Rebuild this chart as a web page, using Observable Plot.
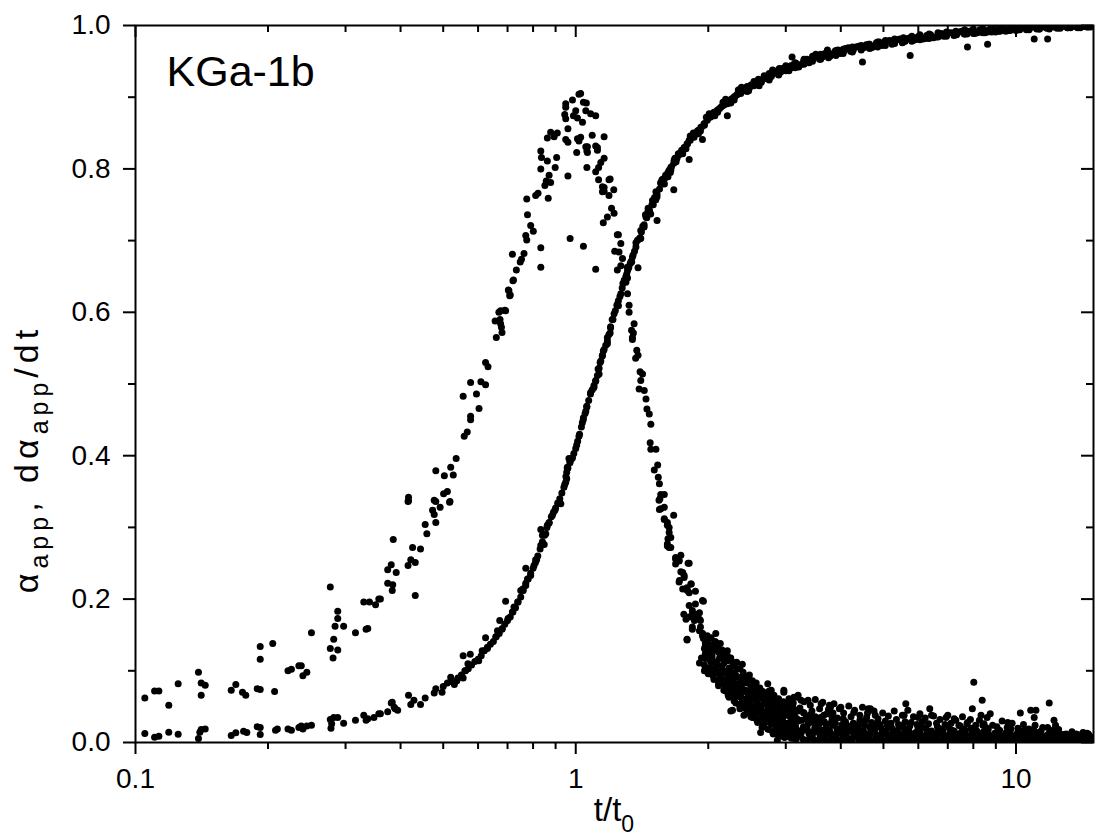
<!DOCTYPE html>
<html>
<head>
<meta charset="utf-8">
<script src="https://cdn.jsdelivr.net/npm/d3@7"></script>
<script src="https://cdn.jsdelivr.net/npm/@observablehq/plot@0.6"></script>
<style>
  html, body { margin: 0; padding: 0; background: #fff; }
  #chart svg { display: block; }
</style>
</head>
<body>
<div id="chart"></div>
<script>
// ---- Labels and ticks ----
const sampleLabel = "KGa-1b";
const xTitle = "t/t";
const xTitleSub = "0";
const xMajorTicks = [0.1, 1, 10];
const xMinorTicks = [0.2,0.3,0.4,0.5,0.6,0.7,0.8,0.9,2,3,4,5,6,7,8,9];
const yMajorTicks = [0, 0.2, 0.4, 0.6, 0.8, 1.0];
const yMinorTicks = [0.1, 0.3, 0.5, 0.7, 0.9];

// ---- dα_app/dt readings (t/t0, value) ----
const rateRise = [[0.105,0.062],[0.1105,0.072],[0.113,0.072],[0.119,0.052],[0.125,0.082],[0.139,0.098],[0.141,0.066],[0.141,0.083],[0.144,0.080],[0.165,0.073],[0.169,0.081],[0.175,0.070],[0.178,0.066],[0.189,0.075],[0.192,0.074],[0.192,0.134],[0.192,0.116],[0.205,0.138],[0.207,0.071],[0.222,0.100],[0.226,0.102],[0.235,0.107],[0.238,0.107],[0.240,0.093],[0.245,0.098],[0.251,0.153],[0.277,0.217],[0.277,0.131],[0.281,0.118],[0.282,0.144],[0.284,0.162],[0.288,0.183],[0.288,0.173],[0.288,0.129],[0.297,0.162],[0.316,0.153],[0.334,0.158],[0.337,0.159],[0.330,0.196],[0.340,0.196],[0.351,0.192],[0.357,0.200],[0.360,0.200],[0.374,0.241],[0.381,0.248],[0.391,0.237],[0.374,0.222],[0.384,0.220],[0.383,0.212],[0.385,0.283],[0.426,0.272],[0.444,0.270],[0.422,0.255],[0.432,0.251],[0.416,0.247],[0.432,0.205],[0.417,0.342],[0.417,0.337],[0.416,0.336],[0.455,0.304],[0.459,0.291],[0.473,0.324],[0.477,0.318],[0.481,0.307],[0.511,0.350],[0.501,0.347],[0.518,0.336],[0.481,0.336],[0.492,0.328],[0.477,0.338],[0.517,0.335],[0.520,0.384],[0.481,0.379],[0.503,0.372],[0.527,0.373],[0.535,0.396],[0.567,0.433],[0.558,0.427],[0.577,0.455],[0.577,0.450],[0.603,0.466],[0.555,0.483],[0.595,0.486],[0.577,0.502],[0.609,0.503],[0.624,0.499],[0.624,0.530],[0.632,0.524],[0.656,0.588],[0.660,0.565],[0.669,0.600],[0.673,0.590],[0.678,0.579],[0.680,0.572],[0.690,0.603],[0.675,0.602],[0.693,0.602],[0.675,0.584],[0.703,0.631],[0.710,0.624],[0.708,0.623],[0.705,0.630],[0.720,0.644],[0.722,0.645]];

const ratePeak = [[0.733,0.659],[0.748,0.670],[0.753,0.674],[0.718,0.681],[0.763,0.682],[0.774,0.701],[0.770,0.707],[0.801,0.713],[0.790,0.721],[0.777,0.736],[0.774,0.758],[0.811,0.763],[0.821,0.766],[0.866,0.759],[0.851,0.777],[0.857,0.783],[0.877,0.781],[0.870,0.791],[0.960,0.790],[0.833,0.800],[0.898,0.802],[0.836,0.816],[0.862,0.811],[0.905,0.816],[0.833,0.825],[0.862,0.843],[0.877,0.851],[0.893,0.845],[0.908,0.850],[0.949,0.841],[0.960,0.837],[0.960,0.856],[0.949,0.870],[0.944,0.876],[0.949,0.886],[0.949,0.891],[0.983,0.896],[0.988,0.874],[1.0,0.881],[1.009,0.871],[1.017,0.904],[1.026,0.905],[1.036,0.865],[1.041,0.893],[1.054,0.881],[1.057,0.892],[1.081,0.877],[1.110,0.874],[1.009,0.842],[1.017,0.839],[1.026,0.844],[1.090,0.847],[1.160,0.845],[1.005,0.823],[1.060,0.825],[1.063,0.831],[1.110,0.832],[1.120,0.826],[1.054,0.831],[1.063,0.823],[1.12,0.830],[1.060,0.802],[1.110,0.796],[1.127,0.802],[1.14,0.809],[1.16,0.815],[1.127,0.785],[1.19,0.785],[1.197,0.786],[1.16,0.774],[1.15,0.775],[1.22,0.771],[1.15,0.768],[1.16,0.769],[1.19,0.763],[0.833,0.663],[0.833,0.690],[0.971,0.703],[1.041,0.692],[1.110,0.660],[1.206,0.745],[1.222,0.738],[1.180,0.733],[1.155,0.725],[1.25,0.708],[1.243,0.708],[1.266,0.696],[1.226,0.685],[1.254,0.684],[1.277,0.675],[1.243,0.659],[1.266,0.665],[1.311,0.648],[1.30,0.642],[1.311,0.626],[1.322,0.610],[1.322,0.600],[1.357,0.584],[1.339,0.575],[1.345,0.565]];

const rateFall = [[1.352,0.571],[1.345,0.562],[1.376,0.547],[1.385,0.540],[1.368,0.536],[1.400,0.517],[1.418,0.514],[1.405,0.505],[1.393,0.493],[1.431,0.491],[1.444,0.479],[1.451,0.465],[1.469,0.458],[1.481,0.444],[1.476,0.418],[1.481,0.409],[1.521,0.409],[1.535,0.387],[1.508,0.380],[1.540,0.370],[1.549,0.361],[1.560,0.346],[1.589,0.346],[1.553,0.340],[1.546,0.338],[1.549,0.325],[1.560,0.326],[1.589,0.328],[1.589,0.312],[1.669,0.317],[1.589,0.311],[1.615,0.307],[1.615,0.303],[1.630,0.300],[1.630,0.293],[1.644,0.286],[1.620,0.284],[1.615,0.277],[1.615,0.274],[1.630,0.272],[1.644,0.272],[1.686,0.258],[1.686,0.256],[1.717,0.253],[1.717,0.254],[1.733,0.261],[1.686,0.249],[1.80,0.250],[1.81,0.250],[1.75,0.237],[1.733,0.238],[1.763,0.233],[1.72,0.226],[1.717,0.224],[1.763,0.230],[1.79,0.216],[1.826,0.221],[1.83,0.221],[1.81,0.209],[1.75,0.214],[1.793,0.212],[1.87,0.211],[1.779,0.214],[1.81,0.191],[1.87,0.193],[1.95,0.197],[1.94,0.198],[1.76,0.179],[1.84,0.179],[1.87,0.179],[1.81,0.175],[1.86,0.170],[1.89,0.174],[1.92,0.170],[1.91,0.172],[1.84,0.184],[1.91,0.181],[1.78,0.172],[1.84,0.161],[1.84,0.158],[1.92,0.161],[1.94,0.152],[1.91,0.156],[1.94,0.149],[1.79,0.143],[1.79,0.144],[1.97,0.135],[1.99,0.126],[1.97,0.117],[1.91,0.111],[1.96,0.100],[2.01,0.098]];

const rateTail = [[2.08,0.152],[1.97,0.138],[2.08,0.140],[1.99,0.128],[2.11,0.126],[2.04,0.117],[2.16,0.119],[2.21,0.114],[1.97,0.100],[2.04,0.098],[2.14,0.100],[2.29,0.110],[2.39,0.109],[2.11,0.086],[2.21,0.089],[2.31,0.093],[2.33,0.082],[2.45,0.091],[2.23,0.077],[2.39,0.075],[2.52,0.077],[2.29,0.066],[2.35,0.064],[2.47,0.071],[2.58,0.068],[2.73,0.082],[2.78,0.073],[2.25,0.044],[2.27,0.045],[2.41,0.038],[2.52,0.035],[2.58,0.031],[2.63,0.014],[2.87,0.003],[2.82,0.063],[2.97,0.070],[3.13,0.063],[2.92,0.054],[3.08,0.049],[3.25,0.059],[3.29,0.042],[3.61,0.054],[3.79,0.049],[4.0,0.049],[3.47,0.035],[3.72,0.040],[4.28,0.042],[4.62,0.047],[3.13,0.031],[3.37,0.026],[3.82,0.031],[4.28,0.026],[4.58,0.035],[4.13,0.017],[4.73,0.019],[3.61,0.017],[3.00,0.012],[4.45,0.012],[2.97,0.073],[3.19,0.063],[3.37,0.059],[3.77,0.052],[4.67,0.047],[4.79,0.038],[5.62,0.054],[5.57,0.038],[6.0,0.035],[6.37,0.047],[6.43,0.038],[6.94,0.035],[7.24,0.033],[7.76,0.028],[7.96,0.047],[8.02,0.084],[8.38,0.059],[8.33,0.038],[8.74,0.040],[9.58,0.028],[10.23,0.041],[10.8,0.045],[11.1,0.045],[11.0,0.035],[11.5,0.021],[11.9,0.055],[12.2,0.031],[12.3,0.024],[14.5,0.013],[14.3,0.013]];

const rateKnee = [[1.94,0.152],[1.96,0.108],[1.98,0.127],[1.99,0.149],[2.0,0.096],[2.01,0.137],[2.02,0.115],[2.03,0.146],[2.04,0.103],[2.05,0.128],[2.06,0.088],[2.07,0.141],[2.08,0.112],[2.09,0.097],[2.1,0.131],[2.11,0.079],[2.12,0.117],[2.13,0.138],[2.14,0.091],[2.15,0.106],[2.16,0.124],[2.17,0.073],[2.18,0.099],[2.19,0.115],[2.2,0.086],[2.21,0.128],[2.22,0.066],[2.23,0.104],[2.24,0.094],[2.25,0.118],[2.26,0.072],[2.27,0.088],[2.28,0.107],[2.29,0.058],[2.3,0.097],[2.31,0.081],[2.32,0.112],[2.33,0.067],[2.34,0.091],[2.35,0.053],[2.36,0.103],[2.37,0.076],[2.38,0.087],[2.39,0.061],[2.4,0.098],[2.41,0.048],[2.42,0.071],[2.43,0.092],[2.44,0.057],[2.45,0.083],[2.46,0.044],[2.47,0.066],[2.48,0.094],[2.49,0.052],[2.5,0.077],[2.51,0.039],[2.52,0.086],[2.53,0.061],[2.54,0.047],[2.55,0.072],[2.56,0.034],[2.57,0.083],[2.58,0.056],[2.59,0.041],[2.6,0.068],[2.61,0.029],[2.62,0.076],[2.63,0.049],[2.64,0.062],[2.65,0.036],[2.66,0.071],[2.67,0.024],[2.68,0.054],[2.69,0.043],[2.7,0.066],[2.71,0.031],[2.72,0.058],[2.73,0.019],[2.74,0.047],[2.75,0.072],[2.76,0.037],[2.77,0.061],[2.78,0.026],[2.79,0.052],[2.8,0.015],[2.81,0.043],[2.82,0.066],[2.83,0.033],[2.84,0.056],[2.85,0.021],[2.86,0.047],[2.87,0.012],[2.88,0.039],[2.89,0.061],[2.9,0.028],[2.91,0.051],[2.92,0.017],[2.93,0.043],[2.94,0.009],[2.95,0.034],[2.96,0.057],[2.97,0.023],[2.98,0.046],[2.99,0.013],[3.0,0.038],[3.02,0.054],[3.03,0.027],[3.05,0.008],[3.06,0.043],[3.08,0.018],[3.09,0.033],[3.11,0.05],[3.12,0.011],[3.14,0.038],[3.15,0.024],[3.17,0.006],[3.18,0.045],[3.2,0.03]];

// middle layer of the tail (y ≈ 0.02–0.065)
const rateMid = [[3.05,0.061],[3.12,0.055],[3.2,0.066],[3.23,0.048],[3.3,0.057],[3.34,0.035],[3.41,0.052],[3.44,0.044],[3.5,0.06],[3.53,0.031],[3.58,0.047],[3.64,0.056],[3.66,0.038],[3.71,0.025],[3.75,0.046],[3.84,0.041],[3.86,0.054],[3.93,0.034],[3.97,0.047],[4.06,0.041],[4.1,0.029],[4.17,0.051],[4.22,0.036],[4.3,0.045],[4.34,0.022],[4.42,0.038],[4.48,0.049],[4.55,0.031],[4.6,0.041],[4.7,0.028],[4.76,0.044],[4.86,0.033],[4.91,0.025],[4.98,0.041],[5.05,0.03],[5.13,0.037],[5.2,0.027],[5.29,0.044],[5.35,0.032],[5.45,0.024],[5.52,0.038],[5.6,0.029],[5.68,0.045],[5.78,0.028],[5.85,0.036],[5.96,0.025],[6.05,0.04],[6.13,0.029],[6.22,0.034],[6.33,0.026],[6.5,0.037],[6.6,0.027],[6.72,0.032],[6.9,0.025],[7.0,0.038],[7.12,0.027],[7.3,0.031],[7.42,0.024],[7.56,0.036],[7.74,0.026],[7.88,0.032],[8.1,0.024],[8.26,0.031],[8.46,0.026],[8.6,0.035],[8.85,0.024],[9.05,0.022],[9.3,0.03],[9.55,0.021],[9.8,0.027],[10.1,0.02],[10.4,0.025],[10.7,0.019],[11.05,0.024],[11.4,0.016],[11.8,0.021],[12.1,0.013],[12.5,0.018],[13.0,0.012],[13.4,0.015],[13.8,0.011],[14.2,0.014],[14.6,0.012]];

// dense low band of the tail
const rateCloud = [
[1.93,0.118],[1.96,0.131],[1.95,0.145],[1.97,0.124],
[2.01,0.104],[1.99,0.118],[2.02,0.129],[1.98,0.142],[2.03,0.112],
[2.05,0.093],[2.08,0.107],[2.04,0.121],[2.07,0.134],[2.09,0.099],
[2.11,0.082],[2.14,0.095],[2.10,0.108],[2.13,0.12],[2.15,0.129],[2.12,0.089],
[2.19,0.072],[2.16,0.086],[2.2,0.097],[2.17,0.111],[2.21,0.121],[2.18,0.079],
[2.23,0.063],[2.26,0.075],[2.22,0.089],[2.25,0.099],[2.27,0.112],[2.24,0.082],
[2.31,0.055],[2.28,0.066],[2.32,0.079],[2.29,0.09],[2.33,0.103],[2.3,0.072],
[2.36,0.047],[2.39,0.058],[2.35,0.07],[2.38,0.081],[2.4,0.093],[2.37,0.064],
[2.45,0.041],[2.42,0.052],[2.46,0.064],[2.43,0.073],[2.47,0.087],[2.44,0.058],
[2.5,0.036],[2.53,0.046],[2.49,0.057],[2.52,0.067],[2.54,0.079],[2.51,0.051],
[2.59,0.028],[2.56,0.04],[2.6,0.05],[2.57,0.061],[2.61,0.072],[2.58,0.045],
[2.65,0.021],[2.68,0.033],[2.64,0.045],[2.67,0.055],[2.69,0.066],[2.66,0.039],
[2.75,0.018],[2.72,0.029],[2.76,0.04],[2.73,0.05],[2.77,0.063],[2.74,0.034],
[2.81,0.012],[2.84,0.024],[2.8,0.036],[2.83,0.046],[2.85,0.057],[2.82,0.03],
[2.91,0.009],[2.88,0.02],[2.92,0.031],[2.89,0.042],[2.93,0.054],[2.9,0.026],
[2.98,0.007],[3.01,0.018],[2.97,0.028],[3.0,0.039],[3.02,0.05],[2.99,0.022],
[3.09,0.006],[3.06,0.016],[3.1,0.026],[3.07,0.036],[3.11,0.047],[3.08,0.021],
[3.16,0.004],[3.19,0.015],[3.15,0.024],[3.18,0.033],[3.2,0.044],[3.17,0.019],
[3.28,0.005],[3.25,0.013],[3.29,0.022],[3.26,0.031],[3.3,0.041],[3.27,0.017],
[3.36,0.003],[3.39,0.012],[3.35,0.021],[3.38,0.03],[3.4,0.038],[3.37,0.016],
[3.48,0.004],[3.45,0.011],[3.49,0.02],[3.46,0.028],[3.5,0.036],[3.47,0.015],
[3.56,0.003],[3.59,0.01],[3.55,0.018],[3.58,0.026],[3.6,0.035],[3.57,0.014],
[3.69,0.004],[3.66,0.012],[3.7,0.02],[3.67,0.029],[3.68,0.008],
[3.78,0.002],[3.81,0.009],[3.77,0.017],[3.8,0.027],[3.82,0.036],[3.79,0.013],
[3.91,0.004],[3.88,0.011],[3.92,0.019],[3.89,0.026],[3.9,0.007],
[4.01,0.003],[4.04,0.01],[4.0,0.018],[4.03,0.025],[4.05,0.033],[4.02,0.014],
[4.15,0.002],[4.12,0.009],[4.16,0.016],[4.13,0.024],[4.14,0.006],
[4.25,0.004],[4.28,0.011],[4.24,0.019],[4.27,0.027],[4.26,0.015],
[4.4,0.002],[4.37,0.008],[4.41,0.015],[4.38,0.023],[4.42,0.031],[4.39,0.012],
[4.51,0.003],[4.54,0.01],[4.5,0.017],[4.53,0.024],[4.52,0.007],
[4.67,0.002],[4.64,0.008],[4.68,0.016],[4.65,0.022],[4.66,0.012],
[4.79,0.003],[4.82,0.01],[4.78,0.018],[4.81,0.026],[4.8,0.006],
[4.95,0.002],[4.92,0.007],[4.96,0.014],[4.93,0.021],[4.94,0.01],
[5.08,0.003],[5.11,0.009],[5.07,0.016],[5.1,0.024],[5.09,0.012],
[5.25,0.002],[5.22,0.008],[5.26,0.015],[5.23,0.02],[5.24,0.005],
[5.39,0.003],[5.42,0.01],[5.38,0.017],[5.41,0.025],[5.4,0.013],
[5.57,0.002],[5.54,0.007],[5.58,0.014],[5.55,0.021],[5.56,0.01],
[5.72,0.003],[5.75,0.009],[5.71,0.016],[5.74,0.023],[5.73,0.006],
[5.91,0.002],[5.88,0.008],[5.92,0.014],[5.89,0.011],
[6.07,0.003],[6.1,0.01],[6.06,0.017],[6.09,0.024],[6.08,0.006],
[6.27,0.002],[6.24,0.007],[6.28,0.013],[6.25,0.02],[6.26,0.01],
[6.44,0.003],[6.47,0.009],[6.43,0.016],[6.46,0.006],
[6.65,0.002],[6.62,0.008],[6.66,0.015],[6.63,0.022],[6.64,0.011],
[6.83,0.003],[6.86,0.01],[6.82,0.017],[6.85,0.006],
[7.06,0.002],[7.03,0.007],[7.07,0.013],[7.04,0.021],[7.05,0.01],
[7.25,0.003],[7.28,0.009],[7.24,0.016],[7.27,0.006],
[7.49,0.002],[7.46,0.008],[7.5,0.014],[7.47,0.023],[7.48,0.011],
[7.69,0.003],[7.72,0.01],[7.68,0.017],[7.71,0.006],
[7.94,0.002],[7.91,0.007],[7.95,0.013],[7.92,0.02],[7.93,0.01],
[8.16,0.003],[8.19,0.009],[8.15,0.016],[8.18,0.006],
[8.43,0.002],[8.4,0.008],[8.44,0.015],[8.41,0.024],[8.42,0.011],
[8.66,0.003],[8.69,0.01],[8.65,0.018],[8.68,0.006],
[8.94,0.002],[8.91,0.007],[8.95,0.013],[8.92,0.01],
[9.19,0.003],[9.22,0.009],[9.18,0.017],[9.21,0.006],
[9.49,0.002],[9.46,0.008],[9.5,0.014],[9.47,0.011],
[9.75,0.003],[9.78,0.01],[9.74,0.019],[9.77,0.006],
[10.06,0.002],[10.03,0.007],[10.07,0.013],[10.04,0.01],
[10.34,0.003],[10.37,0.009],[10.33,0.016],[10.36,0.006],
[10.67,0.002],[10.64,0.008],[10.68,0.014],[10.65,0.011],
[10.97,0.003],[11.0,0.01],[10.96,0.018],[10.99,0.006],
[11.32,0.002],[11.29,0.007],[11.33,0.013],[11.3,0.01],
[11.64,0.003],[11.67,0.009],[11.63,0.006],
[12.01,0.002],[11.98,0.008],[12.02,0.015],[11.99,0.011],
[12.35,0.003],[12.38,0.01],[12.37,0.006],
[12.74,0.002],[12.71,0.007],[12.72,0.011],
[13.1,0.003],[13.13,0.009],[13.12,0.005],
[13.51,0.002],[13.48,0.006],[13.49,0.01],
[13.89,0.003],[13.92,0.008],
[14.31,0.002],[14.28,0.007],
[14.69,0.003],[14.72,0.009],
[3.22,0.009],[3.31,0.018],[3.42,0.007],[3.52,0.022],[3.62,0.006],[3.73,0.016],[3.84,0.024],[3.95,0.013],[4.07,0.021],[4.19,0.005],[4.31,0.017],[4.45,0.027],[4.57,0.012],[4.71,0.019],[4.86,0.005],[5.0,0.014],[5.15,0.022],[5.31,0.011],[5.47,0.004],[5.64,0.018],[5.81,0.012],[5.99,0.021],[6.17,0.005],[6.35,0.015],[6.55,0.012],[6.74,0.019],[6.95,0.005],[7.15,0.017],[7.37,0.011],[7.59,0.019],[7.82,0.005],[8.05,0.016],[8.3,0.012],[8.55,0.021],[8.8,0.005],[9.07,0.013],[9.34,0.009],[9.62,0.015],[9.91,0.005],[10.2,0.012],[10.5,0.018],[10.8,0.006],[11.15,0.014],[11.5,0.005],[11.85,0.012],[12.2,0.018],[12.55,0.004],[12.9,0.011],[13.3,0.006],[13.7,0.012],[14.1,0.005],[14.5,0.01],[14.9,0.006]];

// ---- α_app readings ----
const alphaEarly = [[0.105,0.0125],[0.1105,0.0074],[0.113,0.0088],[0.119,0.0144],[0.125,0.0116],[0.139,0.0056],[0.140,0.0144],[0.141,0.018],[0.144,0.019],[0.165,0.0098],[0.169,0.0135],[0.176,0.0158],[0.179,0.014],[0.189,0.022],[0.192,0.011],[0.192,0.021],[0.208,0.017],[0.21,0.019],[0.222,0.019],[0.226,0.017],[0.235,0.021],[0.238,0.023],[0.240,0.019],[0.245,0.023],[0.251,0.024],[0.277,0.032],[0.279,0.026],[0.278,0.020],[0.282,0.035],[0.288,0.035],[0.297,0.027],[0.316,0.031],[0.330,0.038],[0.334,0.031],[0.337,0.033],[0.348,0.035],[0.357,0.040],[0.360,0.040],[0.374,0.043],[0.381,0.055],[0.383,0.056],[0.387,0.049],[0.389,0.047],[0.394,0.045],[0.422,0.053],[0.417,0.066],[0.429,0.059],[0.444,0.053],[0.455,0.062],[0.477,0.069],[0.481,0.075],[0.497,0.070],[0.511,0.083],[0.520,0.091],[0.537,0.086],[0.555,0.090],[0.562,0.100],[0.569,0.110],[0.555,0.121],[0.576,0.123],[0.602,0.114],[0.613,0.128],[0.630,0.133],[0.624,0.146],[0.658,0.147],[0.664,0.156],[0.681,0.159],[0.672,0.170],[0.702,0.173],[0.718,0.182],[0.693,0.197],[0.724,0.189],[0.738,0.196],[0.750,0.212],[0.758,0.214],[0.770,0.222],[0.777,0.228],[0.790,0.233],[0.770,0.243],[0.804,0.247],[0.815,0.255],[0.811,0.255]];

const alphaMid = [[0.833,0.275],[0.848,0.276],[0.833,0.297],[0.840,0.289],[0.855,0.291],[0.862,0.303],[0.870,0.307],[0.885,0.317],[0.897,0.324],[0.912,0.333],[0.925,0.333],[0.944,0.360],[0.949,0.363],[0.954,0.377],[0.957,0.384],[0.965,0.396],[0.954,0.368],[0.957,0.382],[0.971,0.392],[0.983,0.397],[1.005,0.415],[1.017,0.427],[1.035,0.446],[1.041,0.453],[1.054,0.462],[1.059,0.469],[1.081,0.488],[1.100,0.495],[1.110,0.504],[1.130,0.514],[1.124,0.521],[1.136,0.530],[1.149,0.539],[1.155,0.546],[1.180,0.556],[1.197,0.571],[1.18,0.565],[1.20,0.58],[1.21,0.59],[1.222,0.598],[1.24,0.61],[1.25,0.616],[1.266,0.626],[1.288,0.644],[1.30,0.65],[1.311,0.658],[1.33,0.668],[1.345,0.677],[1.36,0.685],[1.38,0.700],[1.405,0.714],[1.405,0.703],[1.42,0.72],[1.43,0.719],[1.444,0.733],[1.46,0.745],[1.469,0.742],[1.48,0.737],[1.494,0.756],[1.51,0.76],[1.521,0.768],[1.53,0.761],[1.560,0.781],[1.57,0.785],[1.59,0.779],[1.60,0.791],[1.62,0.795],[1.644,0.802],[1.644,0.798],[1.673,0.812],[1.69,0.81],[1.70,0.816],[1.717,0.821],[1.74,0.826],[1.763,0.830],[1.79,0.835],[1.81,0.840],[1.84,0.846],[1.857,0.849],[1.857,0.844],[1.89,0.853],[1.924,0.858],[1.957,0.863],[1.96,0.861],[1.99,0.870],[2.03,0.873],[2.06,0.879],[2.06,0.877],[2.1,0.882],[2.136,0.886],[2.17,0.889],[2.21,0.893],[2.21,0.891],[2.25,0.896],[2.29,0.900],[2.32,0.903],[2.35,0.907],[1.94,0.841],[1.81,0.813],[1.67,0.771],[1.53,0.728],[1.385,0.662],[2.21,0.874]];

const alphaBand = [[0.50,0.078],[0.52,0.085],[0.53,0.081],[0.54,0.090],[0.55,0.094],[0.56,0.100],[0.57,0.103],[0.58,0.108],[0.59,0.113],[0.60,0.116],[0.61,0.121],[0.62,0.128],[0.63,0.131],[0.64,0.137],[0.65,0.141],[0.66,0.148],[0.67,0.152],[0.68,0.158],[0.69,0.165],[0.70,0.170],[0.71,0.175],[0.72,0.182],[0.73,0.188],[0.74,0.196],[0.75,0.203],[0.76,0.212],[0.77,0.219],[0.78,0.228],[0.79,0.236],[0.80,0.243],[0.81,0.251],[0.82,0.260],[0.83,0.270],[0.84,0.280],[0.85,0.289],[0.86,0.300],[0.87,0.306],[0.88,0.315],[0.89,0.321],[0.90,0.327],[0.91,0.334],[0.92,0.340],[0.93,0.348],[0.94,0.356],[0.95,0.371],[0.96,0.383],[0.97,0.390],[0.98,0.396],[0.99,0.403],[1.00,0.410],[1.01,0.420],[1.02,0.430],[1.03,0.440],[1.04,0.450],[1.05,0.459],[1.06,0.468],[1.07,0.477],[1.08,0.486],[1.09,0.492],[1.10,0.498],[1.11,0.505],[1.12,0.512],[1.13,0.522],[1.14,0.532],[1.15,0.540],[1.16,0.548],[1.17,0.554],[1.18,0.560],[1.19,0.569],[1.20,0.578],[1.215,0.590],[1.23,0.602],[1.245,0.612],[1.26,0.622],[1.275,0.634],[1.29,0.645],[1.305,0.653],[1.32,0.662],[1.335,0.671],[1.35,0.680],[1.37,0.691],[1.39,0.702],[1.41,0.712],[1.43,0.722],[1.45,0.732],[1.47,0.742],[1.49,0.750],[1.51,0.758],[1.53,0.765],[1.55,0.772],[1.57,0.779],[1.59,0.786],[1.61,0.792],[1.63,0.798],[1.65,0.803],[1.67,0.808],[1.695,0.814],[1.72,0.820],[1.745,0.825],[1.77,0.830],[1.795,0.835],[1.82,0.840],[1.845,0.845],[1.87,0.849],[1.90,0.854],[1.93,0.858],[1.96,0.863],[1.99,0.868],[2.02,0.872],[2.05,0.876],[2.085,0.880],[2.12,0.884],[2.155,0.888],[2.19,0.891],[2.225,0.895],[2.26,0.898],[2.295,0.901],[2.33,0.904],[2.365,0.907],[2.40,0.910],
[1.25,0.609],[1.31,0.663],[1.37,0.697],[1.44,0.736],[1.50,0.750],[1.56,0.780],[1.62,0.789],[1.68,0.815],[1.75,0.821],[1.82,0.846],[1.90,0.849],[1.98,0.872],[2.07,0.874],[2.16,0.893],[2.25,0.892],[2.34,0.910],
[1.28,0.640],[1.34,0.670],[1.40,0.704],[1.46,0.741],[1.52,0.757],[1.58,0.786],[1.64,0.795],[1.71,0.821],[1.78,0.828],[1.85,0.850],[1.92,0.853],[2.01,0.877],[2.10,0.879],[2.19,0.897],[2.29,0.896],[2.38,0.914]];

const alphaLate = [[2.37,0.905],[2.37,0.912],[2.42,0.91],[2.45,0.915],[2.45,0.908],[2.48,0.913],[2.54,0.916],[2.54,0.919],[2.6,0.925],[2.6,0.918],[2.66,0.925],[2.68,0.930],[2.73,0.928],[2.75,0.933],[2.75,0.926],[2.8,0.932],[2.80,0.938],[2.87,0.937],[2.9,0.940],[2.9,0.933],[2.95,0.94],[3.0,0.944],[3.0,0.937],[3.08,0.944],[3.10,0.956],[3.15,0.948],[3.15,0.941],[3.3,0.951],[3.3,0.953],[3.3,0.946],[3.45,0.957],[3.45,0.950],[3.51,0.960],[3.54,0.956],[3.6,0.960],[3.6,0.953],[3.73,0.966],[3.75,0.962],[3.75,0.955],[3.79,0.960],[3.9,0.965],[3.9,0.958],[4.05,0.967],[4.06,0.965],[4.05,0.961],[4.25,0.970],[4.25,0.963],[4.45,0.970],[4.45,0.972],[4.45,0.966],[4.48,0.949],[4.65,0.974],[4.65,0.968],[4.83,0.974],[4.85,0.977],[4.85,0.970],[5.05,0.979],[5.05,0.972],[5.27,0.979],[5.3,0.981],[5.3,0.975],[5.55,0.983],[5.55,0.977],[5.75,0.981],[5.75,0.958],[5.8,0.985],[5.8,0.978],[6.05,0.987],[6.05,0.980],[6.27,0.986],[6.35,0.988],[6.35,0.982],[6.65,0.990],[6.65,0.984],[6.95,0.991],[6.97,0.988],[6.95,0.985],[7.3,0.992],[7.3,0.987],[7.65,0.994],[7.65,0.988],[7.76,0.991],[7.76,0.970],[8.0,0.995],[8.0,0.989],[8.4,0.996],[8.4,0.990],[8.62,0.993],[8.62,0.974],[8.8,0.997],[8.8,0.991],[9.2,0.998],[9.2,0.992],[9.58,0.994],[9.7,0.998],[9.7,0.993],[10.2,0.999],[10.2,0.994],[10.63,0.996],[10.7,0.999],[10.7,0.995],[11.0,0.981],[11.3,0.999],[11.3,0.995],[11.8,0.997],[11.8,0.981],[11.9,0.999],[11.9,0.996],[12.5,0.999],[12.5,0.997],[13.1,0.998],[13.1,0.997],[13.8,0.999],[13.8,0.998],[14.3,0.999],[14.5,0.999],[14.5,0.998],[14.9,0.999]];

const alphaPlateau = [[2.43,0.912],[2.5,0.917],[2.57,0.919],[2.64,0.921],[2.71,0.928],[2.78,0.929],[2.85,0.936],[2.93,0.936],[3.01,0.942],[3.09,0.941],[3.17,0.947],[3.26,0.946],[3.35,0.953],[3.44,0.952],[3.53,0.958],[3.63,0.956],[3.73,0.962],[3.83,0.960],[3.94,0.966],[4.05,0.963],[4.16,0.969],[4.27,0.966],[4.39,0.971],[4.51,0.969],[4.63,0.974],[4.76,0.971],[4.89,0.977],[5.02,0.974],[5.16,0.979],[5.3,0.976],[5.45,0.981],[5.6,0.978],[5.75,0.983],[5.9,0.980],[6.06,0.985],[6.23,0.982],[6.4,0.987],[6.58,0.984],[6.76,0.989],[6.94,0.986],[7.13,0.990],[7.33,0.987],[7.53,0.992],[7.74,0.988],[7.95,0.993],[8.17,0.990],[8.39,0.994],[8.62,0.991],[8.86,0.995],[9.1,0.992],[9.35,0.996],[9.61,0.993],[9.87,0.997],[10.14,0.994],[10.42,0.997],[10.71,0.994],[11.0,0.998],[11.3,0.995],[11.6,0.998],[11.9,0.995],[12.2,0.998],[12.6,0.996],[12.9,0.999],[13.3,0.997],[13.6,0.999],[14.0,0.997],[14.4,0.999],[14.8,0.998],
[2.47,0.909],[2.54,0.922],[2.61,0.916],[2.68,0.926],[2.75,0.924],[2.82,0.934],[2.89,0.931],[2.97,0.940],[3.05,0.937],[3.13,0.946],[3.21,0.942],[3.3,0.951],[3.39,0.948],[3.49,0.956],[3.58,0.953],[3.68,0.961],[3.78,0.957],[3.88,0.964],[3.99,0.961],[4.1,0.968],[4.21,0.964],[4.33,0.970],[4.45,0.967],[4.57,0.973],[4.7,0.969],[4.82,0.976],[4.96,0.972],[5.09,0.978],[5.23,0.974],[5.37,0.980],[5.52,0.976],[5.67,0.982],[5.83,0.979],[5.98,0.984],[6.15,0.981],[6.31,0.986],[6.49,0.983],[6.67,0.988],[6.85,0.985],[7.03,0.990],[7.23,0.986],[7.43,0.991],[7.63,0.988],[7.84,0.992],[8.06,0.989],[8.28,0.994],[8.5,0.990],[8.74,0.995],[8.98,0.991],[9.22,0.996],[9.48,0.992],[9.74,0.997],[10.0,0.993],[10.28,0.998],[10.56,0.994],[10.85,0.998],[11.15,0.995],[11.45,0.999],[11.75,0.996],[12.05,0.999],[12.4,0.996],[12.75,0.999],[13.1,0.997],[13.45,0.999],[13.8,0.997],[14.2,0.999],[14.6,0.998]];

// ---- Build tables ----
const toRows = (arr) => arr.map(([t, v]) => ({t, v}));
const rateRows = toRows([...rateRise, ...ratePeak, ...rateFall, ...rateTail, ...rateKnee, ...rateMid, ...rateCloud]);
const alphaRows = toRows([...alphaEarly, ...alphaMid, ...alphaBand, ...alphaLate, ...alphaPlateau]);

const W = 1097, H = 836;
const mL = 135, mR = 4, mT = 25, mB = 94;
const plotW = W - mL - mR, plotH = H - mT - mB;
const MAJ = 12, MIN = 7;
const FONT = "'Liberation Sans', Arial, Helvetica, sans-serif";
const fmtX = (d) => d3.format("~g")(d);
const fmtY = d3.format(".1f");
const dotOpts = {x: "t", y: "v", r: 3.5, fill: "black", stroke: "none", clip: true};
const tickStyle = {stroke: "black", strokeWidth: 2};

const chart = Plot.plot({
  width: W, height: H,
  marginLeft: mL, marginRight: mR, marginTop: mT, marginBottom: mB,
  style: {fontFamily: FONT, fontSize: "28px", color: "black", background: "white", overflow: "visible"},
  x: {type: "log", domain: [0.1, 15]},
  y: {domain: [0, 1]},
  marks: [
    Plot.dot(rateRows, dotOpts),
    Plot.dot(alphaRows, dotOpts),
    Plot.frame({stroke: "black", strokeWidth: 2}),
    // tick labels
    Plot.axisX({anchor: "bottom", ticks: xMajorTicks, tickSize: 0, tickPadding: 26, tickFormat: fmtX, label: null}),
    Plot.axisY({anchor: "left", ticks: yMajorTicks, tickSize: 0, tickPadding: 25, tickFormat: fmtY, label: null}),
    // bottom ticks (outward)
    Plot.ruleX(xMajorTicks, {x: (d) => d, insetTop: plotH, insetBottom: -MAJ, ...tickStyle}),
    Plot.ruleX(xMinorTicks, {x: (d) => d, insetTop: plotH, insetBottom: -MIN, ...tickStyle}),
    // top ticks (inward)
    Plot.ruleX(xMajorTicks, {x: (d) => d, insetTop: 0, insetBottom: plotH - MAJ, ...tickStyle}),
    Plot.ruleX(xMinorTicks, {x: (d) => d, insetTop: 0, insetBottom: plotH - MIN, ...tickStyle}),
    // left ticks (outward)
    Plot.ruleY(yMajorTicks, {y: (d) => d, insetLeft: -MAJ, insetRight: plotW, ...tickStyle}),
    Plot.ruleY(yMinorTicks, {y: (d) => d, insetLeft: -MIN, insetRight: plotW, ...tickStyle}),
    // right ticks (inward)
    Plot.ruleY(yMajorTicks, {y: (d) => d, insetLeft: plotW - MAJ, insetRight: 0, ...tickStyle}),
    Plot.ruleY(yMinorTicks, {y: (d) => d, insetLeft: plotW - MIN, insetRight: 0, ...tickStyle}),
    // sample label
    Plot.text([sampleLabel], {frameAnchor: "top-left", dx: 31, dy: 30, text: (d) => d, fontSize: 43, textAnchor: "start", lineAnchor: "top", fill: "black"})
  ]
});

// axis titles with subscripts
const svg = d3.select(chart);
const xt = svg.append("text")
  .attr("x", mL + plotW / 2).attr("y", 821)
  .attr("text-anchor", "middle").attr("font-size", 33).attr("font-family", FONT).attr("fill", "black");
xt.append("tspan").text(xTitle);
xt.append("tspan").attr("font-size", 23).attr("dy", 11).text(xTitleSub);

const yt = svg.append("text")
  .attr("transform", `translate(38,459) rotate(-90)`)
  .attr("text-anchor", "middle").attr("font-size", 34).attr("font-family", FONT).attr("fill", "black")
  .attr("letter-spacing", 5);
yt.append("tspan").text("α");
yt.append("tspan").attr("font-size", 25).attr("dy", 10).text("app");
yt.append("tspan").attr("dy", -10).text(", dα");
yt.append("tspan").attr("font-size", 25).attr("dy", 10).text("app");
yt.append("tspan").attr("dy", -10).text("/dt");

document.getElementById("chart").appendChild(chart);
</script>
</body>
</html>
